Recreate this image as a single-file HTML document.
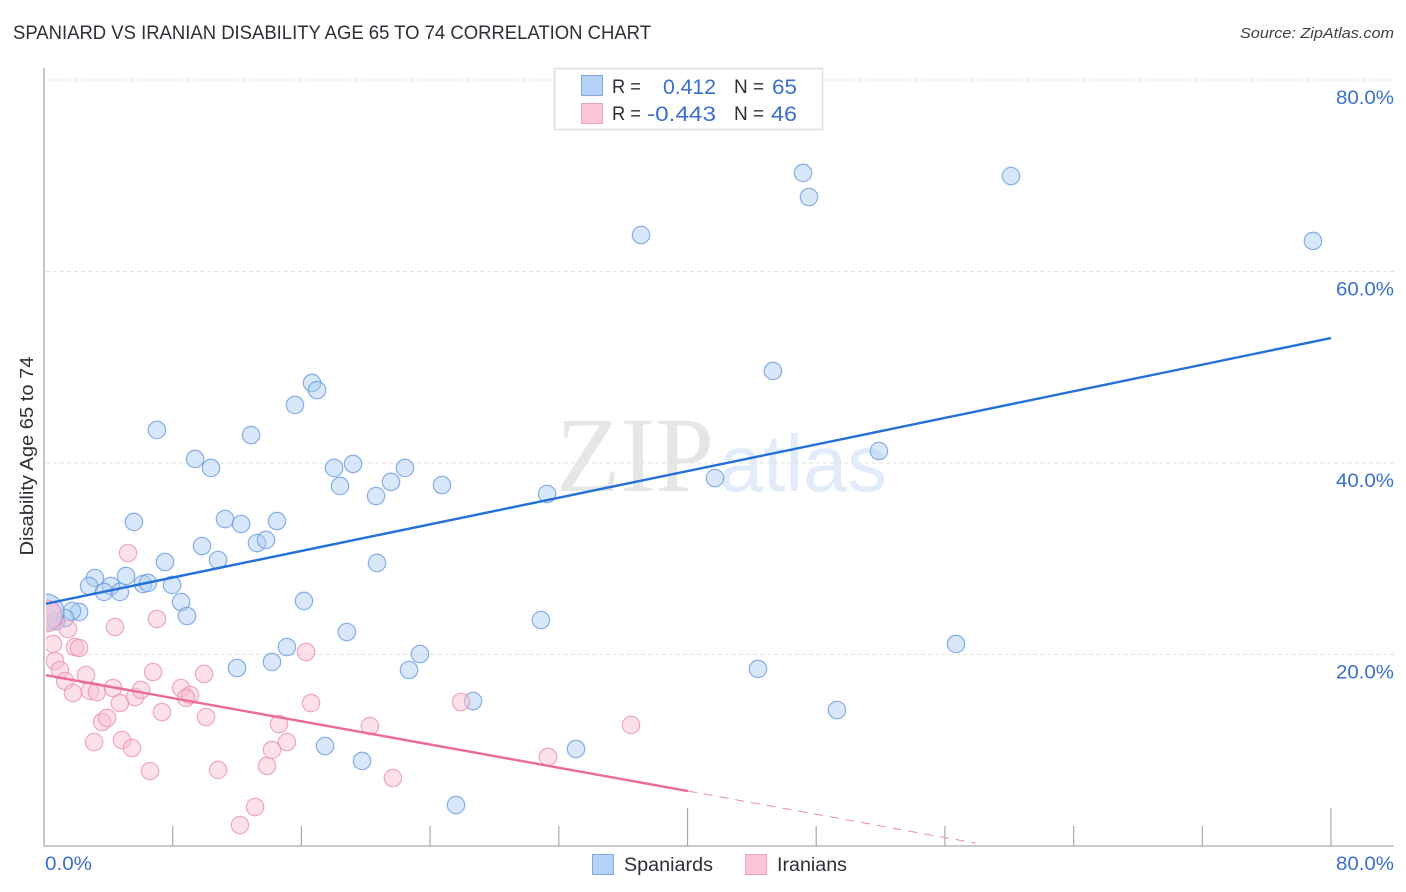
<!DOCTYPE html>
<html lang="en">
<head>
<meta charset="utf-8">
<title>Spaniard vs Iranian Disability Age 65 to 74 Correlation Chart</title>
<style>
html,body{margin:0;padding:0;background:#fff;width:1406px;height:892px;overflow:hidden}
svg{display:block;font-family:"Liberation Sans",sans-serif}
</style>
</head>
<body>
<svg id="chart" width="1406" height="892" viewBox="0 0 1406 892" xmlns="http://www.w3.org/2000/svg">
  <defs>
    <clipPath id="plot-clip"><rect x="46" y="60" width="1350" height="786"/></clipPath>
  </defs>
  <rect x="0" y="0" width="1406" height="892" fill="#fff"/>
  <text x="13" y="39" font-size="19" fill="#2b2f36" textLength="638" lengthAdjust="spacingAndGlyphs">SPANIARD VS IRANIAN DISABILITY AGE 65 TO 74 CORRELATION CHART</text>
  <text x="1394" y="38" font-size="15" font-style="italic" fill="#3c4148" text-anchor="end" textLength="154" lengthAdjust="spacingAndGlyphs">Source: ZipAtlas.com</text>
  <text x="556" y="491" font-family="'Liberation Serif',serif" font-size="107" fill="#e6e6e6" textLength="158" lengthAdjust="spacingAndGlyphs">ZIP</text>
  <text x="719" y="491" font-size="80" fill="#e1ebfa" textLength="168" lengthAdjust="spacingAndGlyphs">atlas</text>
  <g id="grid"></g>
  <g id="axes"></g>
  <g id="blue-points" clip-path="url(#plot-clip)"></g>
  <g id="pink-points" clip-path="url(#plot-clip)"></g>
  <g id="trends"></g>
  <g id="tick-labels"></g>
  <text transform="translate(33,456) rotate(-90)" font-size="18" fill="#2b2f36" text-anchor="middle" textLength="199" lengthAdjust="spacingAndGlyphs">Disability Age 65 to 74</text>

  <g>
    <rect x="554.5" y="68.5" width="268" height="61" fill="#fff" stroke="#dedede" stroke-width="1.5"/>
    <rect x="581.5" y="75.5" width="21" height="20" fill="#b6d3f7" stroke="#7eaae3"/>
    <rect x="581.5" y="103.5" width="21" height="20" fill="#fcc5d8" stroke="#eda3bd"/>
    <text x="612" y="93" font-size="19" fill="#2b2f36" textLength="29" lengthAdjust="spacingAndGlyphs">R =</text>
    <text x="716" y="94" font-size="21" fill="#3a70cc" text-anchor="end" textLength="53" lengthAdjust="spacingAndGlyphs">0.412</text>
    <text x="734" y="93" font-size="19" fill="#2b2f36">N =</text>
    <text x="797" y="94" font-size="21" fill="#3a70cc" text-anchor="end" textLength="25" lengthAdjust="spacingAndGlyphs">65</text>
    <text x="612" y="120" font-size="19" fill="#2b2f36" textLength="29" lengthAdjust="spacingAndGlyphs">R =</text>
    <text x="716" y="121" font-size="21" fill="#3a70cc" text-anchor="end" textLength="69" lengthAdjust="spacingAndGlyphs">-0.443</text>
    <text x="734" y="120" font-size="19" fill="#2b2f36">N =</text>
    <text x="797" y="121" font-size="21" fill="#3a70cc" text-anchor="end" textLength="26" lengthAdjust="spacingAndGlyphs">46</text>
  </g>

  <g>
    <rect x="592.5" y="854.5" width="21" height="20" fill="#b6d3f7" stroke="#7eaae3"/>
    <text x="624" y="871" font-size="19" fill="#2b2f36" textLength="89" lengthAdjust="spacingAndGlyphs">Spaniards</text>
    <rect x="745.5" y="854.5" width="21" height="20" fill="#fcc5d8" stroke="#eda3bd"/>
    <text x="777" y="871" font-size="19" fill="#2b2f36" textLength="70" lengthAdjust="spacingAndGlyphs">Iranians</text>
  </g>
</svg>
<script>
const spaniardsX = [47.18,47.55,60.11,37.11,78.88,45.31,16.66,16.97,15.60,7.02,12.87,51.90,9.39,10.38,18.03,19.21,22.44,21.57,18.40,24.74,20.64,31.27,41.71,5.59,11.25,12.25,14.48,13.24,13.80,9.82,10.82,7.52,20.70,3.17,5.10,2.80,4.16,3.73,4.72,6.15,6.46,7.96,8.52,8.89,16.16,30.89,18.83,15.10,23.37,56.69,14.17,12.00,22.69,44.38,26.67,49.29,17.47,33.07,19.77,25.61,2.18,1.74,1.31,0.75,0.12];
const spaniardsY = [70.29,67.78,69.97,63.81,63.19,49.61,48.36,47.62,46.06,43.45,42.92,41.25,40.42,39.48,39.48,39.90,39.48,38.02,37.60,37.70,36.55,36.76,38.43,33.84,34.15,33.63,33.94,31.64,31.96,31.33,29.87,29.66,29.56,27.99,28.20,27.15,27.15,26.53,26.53,27.36,27.47,27.26,25.48,24.02,25.59,23.60,22.35,20.78,20.05,21.10,19.22,18.59,18.38,18.49,15.14,14.20,10.44,10.13,8.88,4.28,24.44,24.54,23.81,23.50,24.44];
const spaniardsLargeIndex = [64];
const iraniansX = [5.22,7.02,4.41,1.49,0.56,1.93,2.18,16.29,0.68,0.99,1.31,1.80,2.61,2.86,3.29,4.29,4.72,5.66,6.03,6.78,8.52,9.08,8.83,9.95,7.33,10.07,3.61,3.92,3.11,4.85,5.47,6.59,10.82,12.18,13.12,13.86,14.17,14.61,15.10,16.60,20.26,21.69,25.92,31.33,36.49,0.12];
const iraniansY = [30.60,23.71,22.87,22.66,21.10,20.78,20.68,20.26,19.32,18.38,17.23,15.98,17.86,16.19,16.08,16.50,14.93,15.56,16.29,18.17,16.50,15.77,15.46,17.96,13.99,13.47,12.95,13.37,10.86,11.07,10.23,7.83,7.94,2.19,4.07,8.36,10.03,12.74,10.86,14.93,12.53,7.10,15.04,9.30,12.64,24.02];
const iraniansLargeIndex = [45];
const spaniardsTrendX = [0.12,80];
const spaniardsTrendY = [25.3,53.05];
const iraniansTrendSolidX = [0.12,40.03];
const iraniansTrendSolidY = [17.84,5.74];
const iraniansTrendDashX = [40.03,57.9];
const iraniansTrendDashY = [5.74,0.3];
const yGridValues = [20,40,60,80];
const yTickLabels = ["20.0%","40.0%","60.0%","80.0%"];
const xTickValues = [8,16,24,32,40,48,56,64,72,80];
const xTickMajor = [40,80];
const xEndValues = [0,80];
const xEndLabels = ["0.0%","80.0%"];

const NS = 'http://www.w3.org/2000/svg';
const xScale = function (v) { return 44 + v * (1331 - 44) / 80; };
const yScale = function (v) { return 846 - v * (846 - 80) / 80; };
const make = function (tag, attrs, parent) {
  const el = document.createElementNS(NS, tag);
  for (const k in attrs) el.setAttribute(k, attrs[k]);
  parent.appendChild(el);
  return el;
};

const grid = document.getElementById('grid');
yGridValues.forEach(function (v) {
  const el = make('line', {x1: 46, x2: 1394, y1: yScale(v), y2: yScale(v), stroke: '#e2e2e2', 'stroke-width': 1, 'stroke-dasharray': '4 3'}, grid);
  
  
});

const axes = document.getElementById('axes');
const yAxis = make('line', {x1: 44, x2: 44, y1: 68, y2: 846.5, stroke: '#aaaaaa', 'stroke-width': 1.3}, axes);


const xAxis = make('line', {x1: 44, x2: 1394, y1: 846, y2: 846, stroke: '#aaaaaa', 'stroke-width': 1.3}, axes);


xTickValues.forEach(function (v) {
  const top = xTickMajor.indexOf(v) >= 0 ? 808 : 826;
  const el = make('line', {x1: xScale(v), x2: xScale(v), y1: top, y2: 846, stroke: '#aaaaaa', 'stroke-width': 1.2}, axes);
  
  
});

const drawPoints = function (groupId, xs, ys, large, fill, stroke, radiusLarge, label) {
  const group = document.getElementById(groupId);
  xs.forEach(function (x, i) {
    const isLarge = large.indexOf(i) >= 0;
    const r = isLarge ? radiusLarge : 8.7;
    const el = make('circle', {cx: xScale(x), cy: yScale(ys[i]), r: r, fill: fill, 'fill-opacity': isLarge ? 0.62 : 0.45, stroke: stroke, 'stroke-opacity': 0.8, 'stroke-width': 1.2}, group);
    
    
  });
};
drawPoints('blue-points', spaniardsX, spaniardsY, spaniardsLargeIndex, '#a9cbf5', '#6b9be0', 18, 'spaniards');
drawPoints('pink-points', iraniansX, iraniansY, iraniansLargeIndex, '#f9bdd0', '#eb93b0', 16, 'iranians');

const trends = document.getElementById('trends');
const blueTrend = make('line', {x1: xScale(spaniardsTrendX[0]), y1: yScale(spaniardsTrendY[0]), x2: xScale(spaniardsTrendX[1]), y2: yScale(spaniardsTrendY[1]), stroke: '#2270d8', 'stroke-width': 2.4}, trends);


const pinkTrend = make('line', {x1: xScale(iraniansTrendSolidX[0]), y1: yScale(iraniansTrendSolidY[0]), x2: xScale(iraniansTrendSolidX[1]), y2: yScale(iraniansTrendSolidY[1]), stroke: '#ec6a97', 'stroke-width': 2.4}, trends);


const pinkDash = make('line', {x1: xScale(iraniansTrendDashX[0]), y1: yScale(iraniansTrendDashY[0]), x2: xScale(iraniansTrendDashX[1]), y2: yScale(iraniansTrendDashY[1]), stroke: '#ec8aab', 'stroke-width': 1, 'stroke-dasharray': '9 7'}, trends);



const labels = document.getElementById('tick-labels');
yGridValues.forEach(function (v, i) {
  const el = make('text', {x: 1394, y: yScale(v) + 24, 'font-size': 19, fill: '#3a70cc', 'text-anchor': 'end', textLength: 58, lengthAdjust: 'spacingAndGlyphs'}, labels);
  el.textContent = yTickLabels[i];
  
  
});
xEndValues.forEach(function (v, i) {
  const isFirst = i === 0;
  const el = make('text', {x: isFirst ? 45 : 1394, y: 870, 'font-size': 19, fill: '#3a70cc', 'text-anchor': isFirst ? 'start' : 'end', textLength: isFirst ? 47 : 58, lengthAdjust: 'spacingAndGlyphs'}, labels);
  el.textContent = xEndLabels[i];
  
  
});
</script>
</body>
</html>
